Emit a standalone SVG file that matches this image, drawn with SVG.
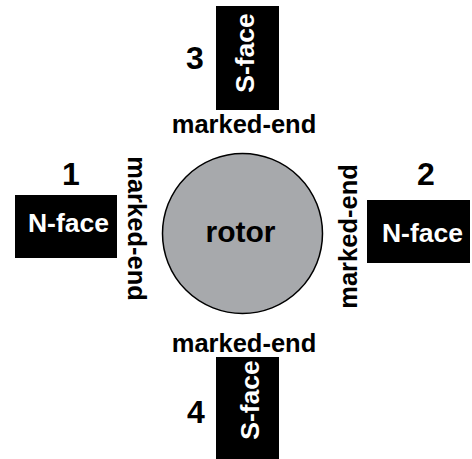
<svg xmlns="http://www.w3.org/2000/svg" width="472" height="459" viewBox="0 0 472 459">
<style>
text{font-family:"Liberation Sans",Arial,sans-serif;font-weight:bold;text-anchor:middle}
.box{fill:#000}
.face{fill:#fff;font-size:26.5px}
.num{fill:#000;font-size:32px}
.lbl{fill:#000;font-size:25.5px}
</style>
<rect width="472" height="459" fill="#fff"/>
<g id="rotor">
<circle cx="242.5" cy="233.5" r="80" fill="#a7a9ac" stroke="#000" stroke-width="1.5"/>
<text x="240.5" y="242" style="font-size:30px">rotor</text>
</g>
<g id="magnet3">
<rect class="box" x="216" y="6" width="63" height="104"/>
<text class="face" transform="translate(254,53) rotate(-90)">S-face</text>
<text class="num" x="195" y="69">3</text>
<text class="lbl" x="244" y="133">marked-end</text>
</g>
<g id="magnet1">
<rect class="box" x="15" y="195" width="102" height="63"/>
<text class="face" x="68.5" y="232">N-face</text>
<text class="num" x="71" y="185">1</text>
<text class="lbl" transform="translate(128,228.5) rotate(90)">marked-end</text>
</g>
<g id="magnet2">
<rect class="box" x="367" y="200" width="103" height="63"/>
<text class="face" x="422.5" y="242">N-face</text>
<text class="num" x="426" y="185">2</text>
<text class="lbl" transform="translate(357,236.5) rotate(-90)">marked-end</text>
</g>
<g id="magnet4">
<rect class="box" x="216" y="357" width="63" height="102"/>
<text class="face" transform="translate(259,400) rotate(-90)">S-face</text>
<text class="num" x="196" y="423">4</text>
<text class="lbl" x="244" y="352">marked-end</text>
</g>
<g id="connectors"></g>
</svg>
